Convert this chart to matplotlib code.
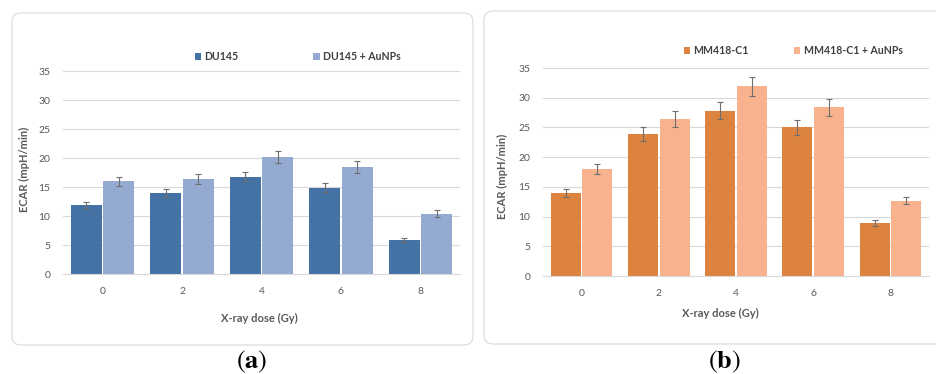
import numpy as np
import matplotlib.pyplot as plt
from matplotlib.patches import FancyBboxPatch

plt.rcParams['font.family'] = ['Lato', 'DejaVu Sans']
plt.rcParams['mathtext.fontset'] = 'stix'

# ECAR values (mpH/min) per X-ray dose
doses = ['0', '2', '4', '6', '8']

du145 = [11.9, 13.9, 16.8, 14.9, 5.9]
du145_err = [0.6, 0.7, 0.8, 0.8, 0.3]
du145_au = [16.0, 16.4, 20.2, 18.4, 10.4]
du145_au_err = [0.8, 0.9, 1.0, 1.0, 0.6]

mm418 = [14.0, 23.9, 27.8, 25.0, 8.9]
mm418_err = [0.7, 1.2, 1.4, 1.3, 0.5]
mm418_au = [18.0, 26.4, 31.9, 28.4, 12.7]
mm418_au_err = [0.9, 1.4, 1.6, 1.4, 0.6]

txt_grey = '#595959'
grid_grey = '#d9d9d9'

fig = plt.figure(figsize=(9.36, 3.74), dpi=100)

# rounded chart-area frames (inches, from bottom-left)
for (x0, y0, w, h) in [(0.12, 0.29, 4.61, 3.32), (4.84, 0.30, 4.60, 3.33)]:
    fig.patches.append(FancyBboxPatch((x0, y0), w, h,
                                      boxstyle='round,pad=0,rounding_size=0.09',
                                      transform=fig.dpi_scale_trans,
                                      facecolor='white', edgecolor=grid_grey,
                                      linewidth=0.8, zorder=-1))


def draw_panel(rect, s1, e1, s2, e2, names, colors, leg_pos, colsp, xlab_pos, ylab_pos):
    ax = fig.add_axes(rect)
    ax.set_facecolor('none')
    x = np.arange(len(doses))
    w = 0.39
    ax.bar(x - 0.205, s1, w, color=colors[0], label=names[0], zorder=2)
    ax.bar(x + 0.205, s2, w, color=colors[1], label=names[1], zorder=2)
    ax.errorbar(x - 0.205, s1, yerr=e1, fmt='none', ecolor='#6e6e6e',
                elinewidth=0.8, capsize=2.3, capthick=0.8, zorder=3)
    ax.errorbar(x + 0.205, s2, yerr=e2, fmt='none', ecolor='#6e6e6e',
                elinewidth=0.8, capsize=2.3, capthick=0.8, zorder=3)

    ax.set_xlim(-0.5, len(doses) - 0.5)
    ax.set_ylim(0, 35)
    ax.set_yticks(range(0, 36, 5))
    ax.set_xticks(x)
    ax.set_xticklabels(doses)
    ax.grid(axis='y', color=grid_grey, linewidth=0.8, zorder=0)
    ax.set_axisbelow(True)
    for s in ['top', 'right', 'left']:
        ax.spines[s].set_visible(False)
    ax.spines['bottom'].set_color(grid_grey)
    ax.spines['bottom'].set_linewidth(0.8)
    ax.tick_params(axis='both', length=0, labelsize=7.5, labelcolor=txt_grey)
    ax.tick_params(axis='y', pad=9)
    ax.tick_params(axis='x', pad=9)

    ax.set_xlabel('X-ray dose (Gy)', fontsize=8, fontweight='bold', color=txt_grey)
    ax.xaxis.set_label_coords(*xlab_pos)
    ax.set_ylabel('ECAR (mpH/min)', fontsize=8, fontweight='bold', color=txt_grey)
    ax.yaxis.set_label_coords(*ylab_pos)

    leg = ax.legend(loc='center', bbox_to_anchor=leg_pos, ncol=2, frameon=False,
                    fontsize=7.6, handlelength=0.6, handleheight=0.6,
                    handletextpad=0.3, columnspacing=colsp, borderaxespad=0)
    for t in leg.get_texts():
        t.set_color('#404040')
        t.set_fontweight('bold')
    return ax


draw_panel([63 / 936, 1 - 274 / 374, 397 / 936, 203 / 374],
           du145, du145_err, du145_au, du145_au_err,
           ['DU145', 'DU145 + AuNPs'], ['#4572a5', '#95aad0'],
           (0.591, 1.069), 7.1, (0.494, -0.192), (-0.083, 0.515))

draw_panel([543 / 936, 1 - 276 / 374, 386 / 936, 208 / 374],
           mm418, mm418_err, mm418_au, mm418_au_err,
           ['MM418-C1', 'MM418-C1 + AuNPs'], ['#dc8340', '#f8b28e'],
           (0.648, 1.082), 4.3, (0.459, -0.154), (-0.091, 0.48))

fig.text(252 / 936, 1 - 362 / 374, r'$(\mathbf{a})$', fontsize=19, ha='center', va='center')
fig.text(724 / 936, 1 - 362 / 374, r'$(\mathbf{b})$', fontsize=19, ha='center', va='center')

fig.savefig('out.png', dpi=100)
